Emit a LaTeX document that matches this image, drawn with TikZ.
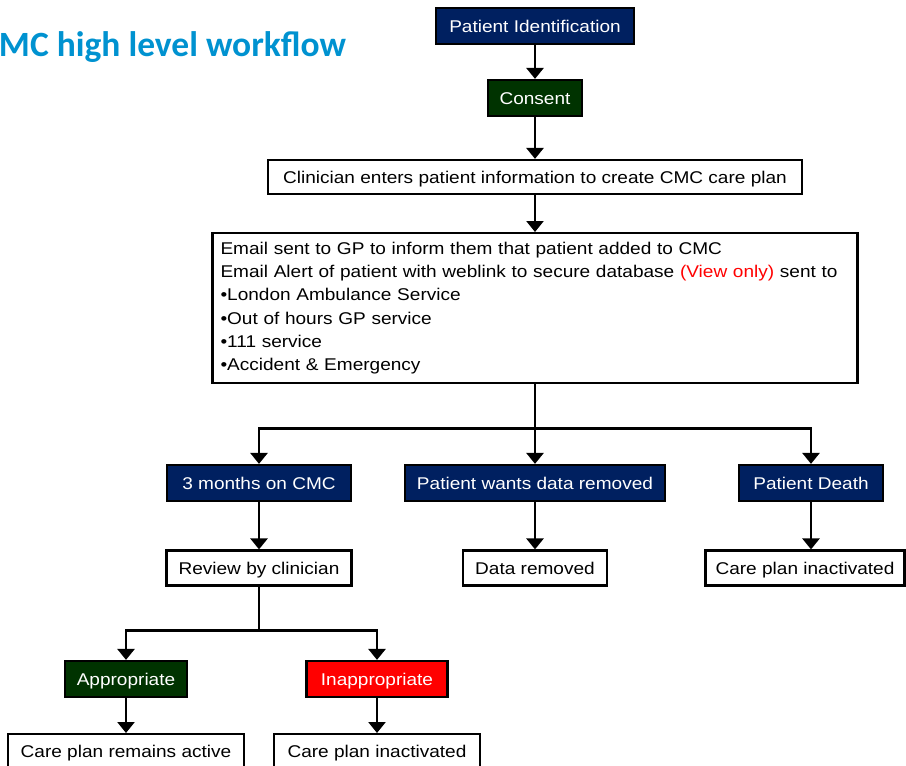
\documentclass[tikz,border=0pt]{standalone}
\usepackage{fontspec}
\setmainfont{Liberation Sans}[FakeStretch=1.12]
\newfontfamily\titlefont{Carlito}
\usetikzlibrary{arrows.meta,positioning}
\definecolor{cmcnavy}{RGB}{0,32,96}
\definecolor{cmcgreen}{RGB}{0,51,0}
\definecolor{cmcred}{RGB}{255,0,0}
\definecolor{titleblue}{RGB}{0,146,208}
\tikzset{
  frame/.style={draw=black, line width=2.2pt, font=\fontsize{17}{20}\selectfont},
  box/.style={frame, minimum height=36pt, inner xsep=10pt, text height=12pt, text depth=0pt},
  navybox/.style={box, fill=cmcnavy, text=white},
  greenbox/.style={box, fill=cmcgreen, text=white},
  redbox/.style={box, fill=cmcred, text=white},
  plainbox/.style={box, fill=white, text=black, minimum height=35pt},
  flow/.style={line width=2.6pt, -{Triangle[width=17pt,length=11pt]}},
  link/.style={line width=2.6pt}
}
\begin{document}
\begin{tikzpicture}[x=1pt,y=-1pt]
  \useasboundingbox (0,0) rectangle (906,766);
  \node[anchor=base west, inner sep=0, text=titleblue,
    font=\titlefont\bfseries\fontsize{35.5}{40}\selectfont] (title) at (-20,56) {CMC high level workflow};
  % top of the flow
  \node[navybox, minimum width=198pt] (ident) at (535,26) {Patient Identification};
  \node[greenbox, minimum width=94pt] (consent) at (535,98) {Consent};
  \node[plainbox, minimum width=534pt, minimum height=34pt] (enter) at (535,177)
    {Clinician enters patient information to create CMC care plan};
  \node[frame, fill=white, anchor=north, minimum width=645pt, minimum height=150pt,
    inner xsep=8pt, text width=629pt, align=left, font=\fontsize{17}{23.2}\selectfont] (email) at (535,232)
    {Email sent to GP to inform them that patient added to CMC\\
     Email Alert of patient with weblink to secure database \textcolor{cmcred}{(View only)} sent to\\
     \textbullet London Ambulance Service\\
     \textbullet Out of hours GP service\\
     \textbullet 111 service\\
     \textbullet Accident \& Emergency};
  % three outcomes
  \node[navybox, minimum width=184pt] (months) at (259,483) {3 months on CMC};
  \node[navybox, minimum width=260pt] (wants) at (535,483) {Patient wants data removed};
  \node[navybox, minimum width=144pt] (death) at (811,483) {Patient Death};
  \node[plainbox, minimum width=185pt] (review) at (259,568) {Review by clinician};
  \node[plainbox, minimum width=144pt] (removed) at (535,568) {Data removed};
  \node[plainbox, minimum width=197pt] (inactive) at (805,568) {Care plan inactivated};
  % review result
  \node[greenbox, minimum width=122pt] (approp) at (126,679) {Appropriate};
  \node[redbox, minimum width=141pt] (inapprop) at (377,679) {Inappropriate};
  \node[plainbox, anchor=north, minimum width=236pt] (remains) at (126,733) {Care plan remains active};
  \node[plainbox, anchor=north, minimum width=206pt] (ended) at (377,733) {Care plan inactivated};

  \draw[flow] (ident) -- (consent);
  \draw[flow] (consent) -- (enter);
  \draw[flow] (enter) -- (email);
  \draw[link] (email.south) -- ++(0,44) coordinate (split);
  \draw[flow] (split) -| (months.north);
  \draw[flow] (split) -| (death.north);
  \draw[flow] (split) -- (wants);
  \draw[flow] (months) -- (review);
  \draw[flow] (wants) -- (removed);
  \draw[flow] (death) -- (death |- inactive.north);
  \draw[link] (review.south) -- ++(0,44) coordinate (split2);
  \draw[flow] (split2) -| (approp.north);
  \draw[flow] (split2) -| (inapprop.north);
  \draw[flow] (approp) -- (remains);
  \draw[flow] (inapprop) -- (ended);
\end{tikzpicture}
\end{document}
